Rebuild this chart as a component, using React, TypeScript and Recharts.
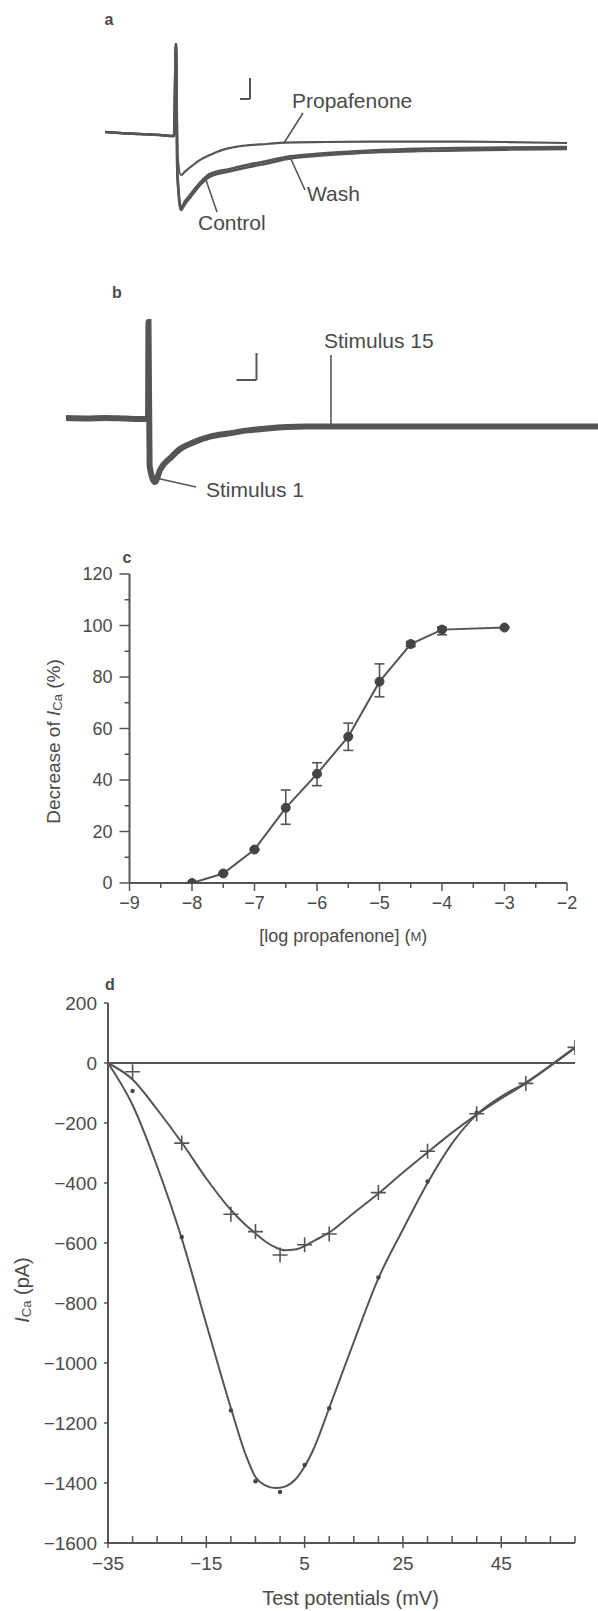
import React from 'react';
import { LineChart, Line, XAxis, YAxis, ReferenceLine, ReferenceDot, ErrorBar } from 'recharts';

const INK = '#555555';
const TEXT = '#4a4a4a';
const FONT = '"Liberation Sans", Arial, Helvetica, sans-serif';

// ---------------- Panel a : current traces (ms, pA) ----------------
const aCtrlTime = [0, 7.5, 17.5, 27.5, 34.5, 35.5, 36.2, 38, 40, 42.9, 44.8, 48, 52.5, 62, 72, 81, 92.5, 105, 119, 138, 157, 176.5, 200, 231];
const aControl = [10, 5, 0, -5, -10, 450, -200, -380, -350, -313, -288, -250, -213, -188, -165, -147, -122, -110, -100, -90, -85, -82, -78, -75];
const aWash = [10, 5, 0, -5, -10, 450, -200, -368, -336, -300, -275, -238, -200, -176, -153, -135, -112, -100, -90, -80, -74, -70, -68, -65];
const aPropTime = [0, 7.5, 17.5, 27.5, 34.5, 35.5, 36.2, 38, 40, 43, 47, 52.5, 58, 66, 73, 81, 89.5, 110, 138, 176.5, 200, 231];
const aPropafenone = [10, 5, 0, -5, -10, 450, -100, -205, -188, -163, -133, -105, -82, -63, -55, -50, -43, -40, -38, -38, -40, -45];

// ---------------- Panel b : stimuli 1..15 superimposed ----------------
const bTime = [0, 10, 20, 30, 41, 41.25, 41.8, 44.5, 47, 52.9, 57, 62.4, 72, 81.5, 91, 100.6, 119.7, 157.8, 196, 266];
const bStimuli = [0, -2, 0, -3, -5, 480, -240, -320, -260, -193, -155, -127, -93, -77, -62, -52, -43, -43, -43, -43];

// ---------------- Panel c : concentration-response ----------------
const cLogConc = [-8, -7.5, -7, -6.5, -6, -5.5, -5, -4.5, -4, -3];
const cDecrease = [0, 3.7, 13, 29.2, 42.4, 56.8, 78.2, 92.8, 98.4, 99.2];
const cErrLow = [0, 0, 0, 6.4, 4.6, 5.3, 5.9, 1, 2, 0];
const cErrHigh = [0, 0, 0, 6.9, 4.3, 5.3, 6.9, 1, 1, 0];
const cXTicks = [-9, -8.5, -8, -7.5, -7, -6.5, -6, -5.5, -5, -4.5, -4, -3.5, -3, -2.5, -2];
const cYTicks = [0, 10, 20, 30, 40, 50, 60, 70, 80, 90, 100, 110, 120];

// ---------------- Panel d : current-voltage ----------------
const dPropPotentials = [-30, -20, -10, -5, 0, 5, 10, 20, 30, 40, 50, 60];
const dPropafenone = [-29, -267, -504, -562, -640, -606, -570, -432, -294, -169, -68, 52];
const dCtrlPotentials = [-30, -20, -10, -5, 0, 5, 10, 20, 30, 40];
const dControl = [-93, -580, -1158, -1394, -1430, -1340, -1151, -715, -395, -166];
const dFitPotentials = [-35, -30, -25, -20, -15, -10, -7, -5, -3, -1, 1, 3, 5, 7, 10, 15, 20, 25, 30, 35, 40, 45, 50, 55, 60];
const dControlFit = [0, -140, -345, -585, -870, -1150, -1305, -1380, -1408, -1417, -1412, -1390, -1345, -1280, -1150, -930, -718, -555, -400, -268, -172, -112, -65, -8, 52];
const dPropFit = [0, -55, -155, -265, -385, -490, -540, -568, -595, -614, -624, -622, -610, -592, -565, -500, -435, -365, -298, -232, -172, -118, -68, -10, 50];
const dXTicks = [-35, -30, -25, -20, -15, -10, -5, 0, 5, 10, 15, 20, 25, 30, 35, 40, 45, 50, 55, 60];
const dXLabels = [-35, -15, 5, 25, 45];
const dYTicks = [200, 0, -200, -400, -600, -800, -1000, -1200, -1400, -1600];

const fmt = (v: number) => (v < 0 ? '\u2212' + Math.abs(v) : String(v));

const Anno = (p: any) => {
  const vb = p.viewBox || { x: 0, y: 0, width: 0, height: 0 };
  const x = vb.x + (vb.width || 0) / 2;
  const y = vb.y + (vb.height || 0) / 2;
  return (
    <text x={x} y={y} textAnchor="start" dominantBaseline="central" fontSize={21} fill={TEXT} fontFamily={FONT}>
      {p.text}
    </text>
  );
};

const seg = (x1: number, y1: number, x2: number, y2: number, key: string, w = 1.6) => (
  <ReferenceLine
    key={key}
    segment={[{ x: x1, y: y1 }, { x: x2, y: y2 }]}
    stroke={INK}
    strokeWidth={w}
    ifOverflow="visible"
  />
);

function PanelA() {
  const ctrl = aCtrlTime.map((t, i) => ({ t, v: aControl[i] }));
  const wash = aCtrlTime.map((t, i) => ({ t, v: aWash[i] }));
  const prop = aPropTime.map((t, i) => ({ t, v: aPropafenone[i] }));
  return (
    <LineChart width={598} height={250} margin={{ top: 34, right: 31, bottom: 26, left: 105 }}>
      <XAxis type="number" dataKey="t" domain={[0, 231]} hide allowDataOverflow />
      <YAxis type="number" domain={[-450, 500]} hide allowDataOverflow />
      <Line data={ctrl} dataKey="v" type="monotone" stroke={INK} strokeWidth={2.6} dot={false} isAnimationActive={false} />
      <Line data={wash} dataKey="v" type="monotone" stroke={INK} strokeWidth={2.6} dot={false} isAnimationActive={false} />
      <Line data={prop} dataKey="v" type="monotone" stroke={INK} strokeWidth={2.2} dot={false} isAnimationActive={false} />
      {seg(72.5, 175, 72.5, 280, 'sv', 2)}
      {seg(67.5, 175, 72.5, 175, 'sh', 2)}
      {seg(99, 105, 89.5, -45, 'p1')}
      {seg(100, -280, 92.5, -115, 'p2')}
      {seg(56, -390, 50.5, -230, 'p3')}
      <ReferenceDot x={93.5} y={170} r={0} fill="none" stroke="none" ifOverflow="visible" label={(p: any) => <Anno {...p} text="Propafenone" />} />
      <ReferenceDot x={101} y={-295} r={0} fill="none" stroke="none" ifOverflow="visible" label={(p: any) => <Anno {...p} text="Wash" />} />
      <ReferenceDot x={46.5} y={-440} r={0} fill="none" stroke="none" ifOverflow="visible" label={(p: any) => <Anno {...p} text="Control" />} />
    </LineChart>
  );
}

function PanelB() {
  const data = bTime.map((t, i) => ({ t, v: bStimuli[i] }));
  return (
    <LineChart width={598} height={290} margin={{ top: 58, right: 0, bottom: 42, left: 66 }}>
      <XAxis type="number" dataKey="t" domain={[0, 266]} hide allowDataOverflow />
      <YAxis type="number" domain={[-400, 550]} hide allowDataOverflow />
      <Line data={data} dataKey="v" type="monotone" stroke={INK} strokeWidth={6} dot={false} isAnimationActive={false} />
      {seg(95.25, 190, 95.25, 325, 'sv', 2)}
      {seg(85.25, 190, 95.25, 190, 'sh', 2)}
      {seg(132.5, 315, 132.5, -40, 'p1')}
      {seg(45, -300, 65, -345, 'p2')}
      <ReferenceDot x={129} y={390} r={0} fill="none" stroke="none" ifOverflow="visible" label={(p: any) => <Anno {...p} text="Stimulus 15" />} />
      <ReferenceDot x={70} y={-355} r={0} fill="none" stroke="none" ifOverflow="visible" label={(p: any) => <Anno {...p} text="Stimulus 1" />} />
    </LineChart>
  );
}

const CXTick = (p: any) => {
  const v = p.payload.value;
  const major = Number.isInteger(v);
  return (
    <g>
      <line x1={p.x} x2={p.x} y1={p.y} y2={p.y + (major ? 8 : 5)} stroke={INK} strokeWidth={1.5} />
      {major && (
        <text x={p.x} y={p.y + 20} textAnchor="middle" dominantBaseline="central" fontSize={18} fill={TEXT} fontFamily={FONT}>
          {fmt(v)}
        </text>
      )}
    </g>
  );
};

const CYTick = (p: any) => {
  const v = p.payload.value;
  const major = v % 20 === 0;
  return (
    <g>
      <line x1={p.x - (major ? 10 : 5)} x2={p.x} y1={p.y} y2={p.y} stroke={INK} strokeWidth={1.5} />
      {major && (
        <text x={p.x - 17} y={p.y} textAnchor="end" dominantBaseline="central" fontSize={18} fill={TEXT} fontFamily={FONT}>
          {fmt(v)}
        </text>
      )}
    </g>
  );
};

const CXLabel = (p: any) => {
  const vb = p.viewBox || { x: 0, y: 0, width: 0, height: 0 };
  return (
    <text x={vb.x + vb.width / 2 - 5} y={vb.y + 53} textAnchor="middle" dominantBaseline="central" fontSize={18} fill={TEXT} fontFamily={FONT}>
      [log propafenone] (<tspan fontSize={13}>M</tspan>)
    </text>
  );
};

const CYLabel = (p: any) => {
  const vb = p.viewBox || { x: 0, y: 0, width: 0, height: 0 };
  const cx = vb.x + 53;
  const cy = vb.y + vb.height / 2 + 13;
  return (
    <text x={cx} y={cy} transform={`rotate(-90 ${cx} ${cy})`} textAnchor="middle" dominantBaseline="central" fontSize={19} fill={TEXT} fontFamily={FONT}>
      Decrease of <tspan fontStyle="italic">I</tspan>
      <tspan fontSize={13} dy={4}>Ca</tspan>
      <tspan dy={-4}> (%)</tspan>
    </text>
  );
};

function PanelC() {
  const data = cLogConc.map((x, i) => ({ x, y: cDecrease[i], err: [cErrLow[i], cErrHigh[i]] }));
  return (
    <LineChart width={598} height={420} data={data} margin={{ top: 34, right: 31, bottom: 0, left: 0 }}>
      <XAxis
        type="number"
        dataKey="x"
        domain={[-9, -2]}
        ticks={cXTicks}
        interval={0}
        height={77}
        tickSize={0}
        tickMargin={0}
        tickLine={false}
        axisLine={{ stroke: INK, strokeWidth: 2 }}
        tick={CXTick}
        label={(p: any) => <CXLabel {...p} />}
        allowDataOverflow
      />
      <YAxis
        type="number"
        domain={[0, 120]}
        ticks={cYTicks}
        interval={0}
        width={129.5}
        tickSize={0}
        tickMargin={0}
        tickLine={false}
        axisLine={{ stroke: INK, strokeWidth: 2 }}
        tick={CYTick}
        label={(p: any) => <CYLabel {...p} />}
        allowDataOverflow
      />
      <Line dataKey="y" type="linear" stroke={INK} strokeWidth={2} dot={{ r: 4.5, fill: '#444', stroke: '#444', strokeWidth: 1 }} isAnimationActive={false}>
        <ErrorBar dataKey="err" direction="y" width={5} stroke={INK} strokeWidth={1.6} />
      </Line>
    </LineChart>
  );
}

const DXTick = (p: any) => {
  const v = p.payload.value;
  const major = dXLabels.includes(v);
  return (
    <g>
      <line x1={p.x} x2={p.x} y1={p.y - 7} y2={p.y + (major ? 5 : 0)} stroke={INK} strokeWidth={1.5} />
      {major && (
        <text x={p.x} y={p.y + 20} textAnchor="middle" dominantBaseline="central" fontSize={19} fill={TEXT} fontFamily={FONT}>
          {fmt(v)}
        </text>
      )}
    </g>
  );
};

const DYTick = (p: any) => (
  <g>
    <line x1={p.x - 4} x2={p.x} y1={p.y} y2={p.y} stroke={INK} strokeWidth={1.5} />
    <text x={p.x - 11} y={p.y} textAnchor="end" dominantBaseline="central" fontSize={19} fill={TEXT} fontFamily={FONT}>
      {fmt(p.payload.value)}
    </text>
  </g>
);

const DXLabel = (p: any) => {
  const vb = p.viewBox || { x: 0, y: 0, width: 0, height: 0 };
  return (
    <text x={vb.x + vb.width / 2 + 9} y={vb.y + 55} textAnchor="middle" dominantBaseline="central" fontSize={20} fill={TEXT} fontFamily={FONT}>
      Test potentials (mV)
    </text>
  );
};

const DYLabel = (p: any) => {
  const vb = p.viewBox || { x: 0, y: 0, width: 0, height: 0 };
  const cx = vb.x + 22;
  const cy = vb.y + vb.height / 2 + 17;
  return (
    <text x={cx} y={cy} transform={`rotate(-90 ${cx} ${cy})`} textAnchor="middle" dominantBaseline="central" fontSize={20} fill={TEXT} fontFamily={FONT}>
      <tspan fontStyle="italic">I</tspan>
      <tspan fontSize={13} dy={4}>Ca</tspan>
      <tspan dy={-4}> (pA)</tspan>
    </text>
  );
};

const Cross = (p: any) => {
  if (p.cx == null || p.cy == null) return <g key={p.key} />;
  const s = 7.5;
  return (
    <path
      key={p.key}
      d={`M${p.cx - s},${p.cy}H${p.cx + s}M${p.cx},${p.cy - s}V${p.cy + s}`}
      stroke={INK}
      strokeWidth={1.6}
      fill="none"
    />
  );
};

function PanelD() {
  const ctrlFit = dFitPotentials.map((x, i) => ({ x, y: dControlFit[i] }));
  const propFit = dFitPotentials.map((x, i) => ({ x, y: dPropFit[i] }));
  const ctrlPts = dCtrlPotentials.map((x, i) => ({ x, y: dControl[i] }));
  const propPts = dPropPotentials.map((x, i) => ({ x, y: dPropafenone[i] }));
  return (
    <LineChart width={598} height={651} margin={{ top: 43, right: 23, bottom: 0, left: 0 }}>
      <XAxis
        type="number"
        dataKey="x"
        domain={[-35, 60]}
        ticks={dXTicks}
        interval={0}
        height={68}
        tickSize={0}
        tickMargin={0}
        tickLine={false}
        axisLine={{ stroke: INK, strokeWidth: 2 }}
        tick={DXTick}
        label={(p: any) => <DXLabel {...p} />}
        allowDataOverflow
      />
      <YAxis
        type="number"
        dataKey="y"
        domain={[-1600, 200]}
        ticks={dYTicks}
        interval={0}
        width={108}
        tickSize={0}
        tickMargin={0}
        tickLine={false}
        axisLine={{ stroke: INK, strokeWidth: 2 }}
        tick={DYTick}
        label={(p: any) => <DYLabel {...p} />}
        allowDataOverflow
      />
      <ReferenceLine y={0} stroke={INK} strokeWidth={2} />
      <Line data={ctrlFit} dataKey="y" type="monotone" stroke={INK} strokeWidth={2} dot={false} isAnimationActive={false} />
      <Line data={propFit} dataKey="y" type="monotone" stroke={INK} strokeWidth={2} dot={false} isAnimationActive={false} />
      <Line data={ctrlPts} dataKey="y" stroke="none" dot={{ r: 2.2, fill: '#444', stroke: 'none' }} isAnimationActive={false} />
      <Line data={propPts} dataKey="y" stroke="none" dot={Cross} isAnimationActive={false} />
    </LineChart>
  );
}

const letter = (ch: string, x: number, y: number) => (
  <div
    style={{
      position: 'absolute',
      left: x - 10,
      top: y - 10,
      width: 20,
      height: 20,
      lineHeight: '20px',
      textAlign: 'center',
      fontWeight: 'bold',
      fontSize: 16,
      color: TEXT,
      fontFamily: FONT,
    }}
  >
    {ch}
  </div>
);

export default function App() {
  return (
    <div style={{ position: 'absolute', left: 0, top: 0, width: 598, height: 1611, background: '#fff', overflow: 'hidden' }}>
      <div style={{ position: 'absolute', left: 0, top: 0 }}>
        <PanelA />
      </div>
      <div style={{ position: 'absolute', left: 0, top: 250 }}>
        <PanelB />
      </div>
      <div style={{ position: 'absolute', left: 0, top: 540 }}>
        <PanelC />
      </div>
      <div style={{ position: 'absolute', left: 0, top: 960 }}>
        <PanelD />
      </div>
      {letter('a', 109, 20)}
      {letter('b', 117, 293)}
      {letter('c', 127, 558)}
      {letter('d', 110, 985)}
    </div>
  );
}
